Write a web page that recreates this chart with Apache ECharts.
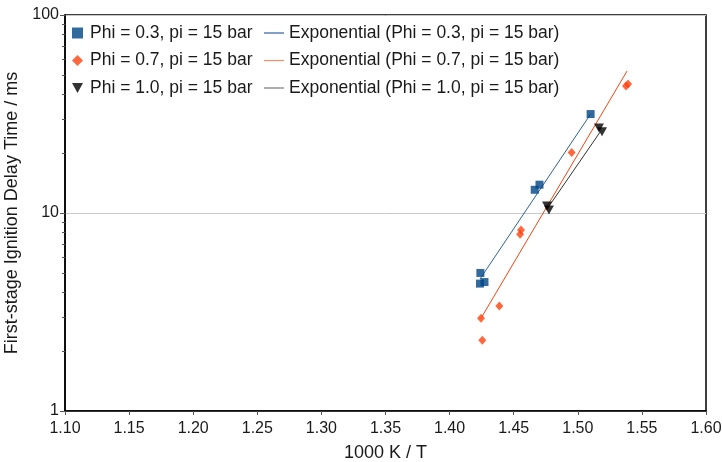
<!DOCTYPE html>
<html>
<head>
<meta charset="utf-8">
<script src="https://cdn.jsdelivr.net/npm/echarts@6/dist/echarts.min.js"></script>
<style>
  html, body { margin: 0; padding: 0; background: #fff; }
  #chart { width: 722px; height: 462px; }
</style>
</head>
<body>
<div id="chart"></div>
<script>
// Measured first-stage ignition delay times (1000 K / T, ms)
const phi03X = [1.4240, 1.4237, 1.4272, 1.4664, 1.4701, 1.5100];
const phi03Y = [4.98, 4.40, 4.48, 13.1, 13.9, 31.6];

const phi07X = [1.4245, 1.4255, 1.4388, 1.4550, 1.4557, 1.4952, 1.5376, 1.5392];
const phi07Y = [2.94, 2.28, 3.39, 7.80, 8.20, 20.2, 43.8, 44.8];

const phi10X = [1.4760, 1.4775, 1.5165, 1.5189];
const phi10Y = [10.85, 10.36, 26.9, 25.7];

// Exponential trend lines (start / end points)
const fit03X = [1.4237, 1.5100];
const fit03Y = [4.64, 31.6];
const fit07X = [1.4245, 1.5384];
const fit07Y = [2.94, 52.1];
const fit10X = [1.4770, 1.5175];
const fit10Y = [10.7, 25.7];

const seriesNames = [
  'Phi = 0.3, pi = 15 bar',
  'Phi = 0.7, pi = 15 bar',
  'Phi = 1.0, pi = 15 bar'
];
const fitNames = seriesNames.map(n => 'Exponential (' + n + ')');

const xTickMin = 1.10, xTickMax = 1.60, xTickStep = 0.05;
const yMinorTicks = [2, 3, 4, 5, 6, 7, 8, 9, 20, 30, 40, 50, 60, 70, 80, 90];

const colBlue = '#004586';
const colBlueLine = '#2f62a0';
const colOrange = '#ff420e';
const colBlack = '#000000';
const colBlackLine = '#333333';
const textCol = '#1a1a1a';
const FONT = 'Liberation Sans';

const zip = (xs, ys) => xs.map((x, i) => [x, ys[i]]);
const downTri = 'path://M0,0 L10,0 L5,9 Z';

const chart = echarts.init(document.getElementById('chart'), null, { renderer: 'canvas' });

chart.setOption({
  animation: false,
  backgroundColor: '#ffffff',
  textStyle: { fontFamily: FONT, color: textCol },
  grid: {
    left: 65, right: 16, top: 15, bottom: 51,
    outerBoundsMode: 'none', containLabel: false,
    show: true, borderColor: '#000', borderWidth: 1.5, backgroundColor: 'transparent'
  },
  legend: [
    {
      data: seriesNames.map((n, i) => ({
        name: n,
        icon: i === 0 ? 'rect' : (i === 1 ? 'diamond' : downTri)
      })),
      orient: 'vertical', left: 72, top: 24, padding: 0,
      itemWidth: 11, itemHeight: 11, itemGap: 9.5,
      textStyle: { fontFamily: FONT, fontSize: 17.5, color: textCol, padding: [0, 0, 0, 2] }
    },
    {
      data: fitNames.map(n => ({ name: n, icon: 'rect' })),
      orient: 'vertical', left: 264, top: 24, padding: 0,
      itemWidth: 20, itemHeight: 1.2, itemGap: 9.5,
      textStyle: { fontFamily: FONT, fontSize: 17.5, color: textCol, lineHeight: 17.5 }
    }
  ],
  xAxis: {
    type: 'value', min: xTickMin, max: xTickMax, interval: xTickStep,
    name: '1000 K / T', nameLocation: 'middle', nameGap: 33,
    nameTextStyle: { fontFamily: FONT, fontSize: 18, color: textCol },
    axisLine: { show: true, onZero: false, lineStyle: { color: '#000', width: 1.5 } },
    axisTick: { show: true, inside: false, length: 4, lineStyle: { color: '#555' } },
    axisLabel: {
      fontFamily: FONT, fontSize: 16, color: textCol, margin: 10,
      formatter: v => v.toFixed(2)
    },
    splitLine: { show: false }
  },
  yAxis: {
    type: 'log', logBase: 10, min: 1, max: 100,
    name: 'First-stage Ignition Delay Time / ms', nameLocation: 'middle', nameGap: 35,
    nameTextStyle: { fontFamily: FONT, fontSize: 18, color: textCol },
    axisLine: { show: true, lineStyle: { color: '#000', width: 1.5 } },
    axisTick: { show: true, inside: false, length: 5, lineStyle: { color: '#555' } },
    axisLabel: { fontFamily: FONT, fontSize: 16, color: textCol, margin: 6 },
    splitLine: { show: true, lineStyle: { color: '#c8c8c8', width: 1 } }
  },
  series: [
    {
      name: seriesNames[0], type: 'scatter', data: zip(phi03X, phi03Y),
      symbol: 'rect', symbolSize: 8, itemStyle: { color: colBlue }, z: 5
    },
    {
      name: fitNames[0], type: 'line', data: zip(fit03X, fit03Y),
      symbol: 'none', lineStyle: { color: colBlueLine, width: 1 }, itemStyle: { color: colBlueLine }, z: 3
    },
    {
      name: seriesNames[1], type: 'scatter', data: zip(phi07X, phi07Y),
      symbol: 'diamond', symbolSize: [8, 9], itemStyle: { color: colOrange }, z: 5
    },
    {
      name: fitNames[1], type: 'line', data: zip(fit07X, fit07Y),
      symbol: 'none', lineStyle: { color: colOrange, width: 1 }, itemStyle: { color: '#ff8a6a' }, z: 3
    },
    {
      name: seriesNames[2], type: 'scatter', data: zip(phi10X, phi10Y),
      symbol: downTri, symbolSize: [10, 9], itemStyle: { color: colBlack }, z: 5
    },
    {
      name: fitNames[2], type: 'line', data: zip(fit10X, fit10Y),
      symbol: 'none', lineStyle: { color: colBlackLine, width: 1 }, itemStyle: { color: '#7a7a7a' }, z: 3
    },
    {
      // minor ticks on the log axis at 2..9 and 20..90
      type: 'custom', silent: true, clip: false, z: 6,
      data: yMinorTicks.map(v => [xTickMin, v]),
      renderItem: (params, api) => {
        const p = api.coord([api.value(0), api.value(1)]);
        return {
          type: 'line',
          shape: { x1: p[0] - 3, y1: Math.round(p[1]) + 0.5, x2: p[0], y2: Math.round(p[1]) + 0.5 },
          style: { stroke: '#555', lineWidth: 1 }
        };
      }
    }
  ]
});
</script>
</body>
</html>
